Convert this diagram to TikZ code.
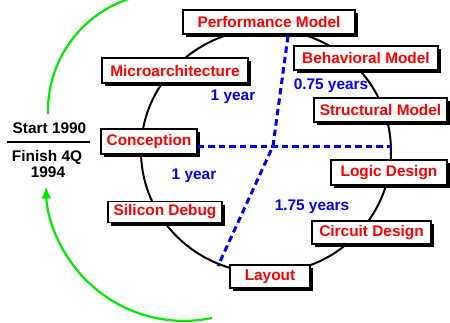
\documentclass[tikz,border=0pt]{standalone}
\usepackage{fontspec}
\setmainfont{Liberation Sans}
\usetikzlibrary{shadows,arrows.meta}
\definecolor{pred}{RGB}{255,0,0}
\definecolor{pblue}{RGB}{0,0,255}
\definecolor{pgreen}{RGB}{0,235,0}
\tikzset{
  stagebox/.style={draw=black, line width=1.5pt, fill=white, text=pred,
    font=\fontsize{15.4}{18}\selectfont\bfseries, inner sep=0pt,
    drop shadow={shadow xshift=3pt, shadow yshift=-3pt, fill=black, opacity=1}},
  yearlbl/.style={text=pblue, font=\fontsize{15.4}{18}\selectfont\bfseries, inner sep=0pt},
  datelbl/.style={text=black, font=\fontsize{15.4}{18}\selectfont\bfseries, inner sep=0pt},
  splitline/.style={pblue, line width=3pt, dash pattern=on 6.5pt off 4pt},
  greenarc/.style={pgreen, line width=2.2pt}
}
\begin{document}
\begin{tikzpicture}[x=1pt,y=-1pt]
\useasboundingbox (0,0) rectangle (450,322);
\clip (0,0) rectangle (450,322);
% cycle
\draw[line width=2pt] (266,151) ellipse [x radius=125, y radius=122];
% coordinates for dashed partition
\coordinate (ptop) at (288,36);
\coordinate (pmid) at (273,146);
\coordinate (pbot) at (218,266);
\coordinate (pright) at (392,146);
% stage boxes
\node[stagebox, minimum width=172pt, minimum height=24pt] (perf) at (269,22) {Performance Model};
\node[stagebox, minimum width=144pt, minimum height=24pt] (behav) at (366,58) {Behavioral Model};
\node[stagebox, minimum width=146pt, minimum height=25pt] (micro) at (175,70.5) {Microarchitecture};
\node[stagebox, minimum width=133pt, minimum height=24pt] (struct) at (380.5,110) {Structural Model};
\node[stagebox, minimum width=96pt, minimum height=25pt] (conc) at (149,141.5) {Conception};
\node[stagebox, minimum width=116pt, minimum height=25pt] (logic) at (389,172.5) {Logic Design};
\node[stagebox, minimum width=114pt, minimum height=21pt] (silicon) at (165,212) {Silicon Debug};
\node[stagebox, minimum width=119pt, minimum height=23pt] (circuit) at (371.5,232.5) {Circuit Design};
\node[stagebox, minimum width=80pt, minimum height=23pt] (layout) at (270,276.5) {Layout};
% dashed partition lines
\draw[splitline] (conc.east |- pright) -- (pright);
\draw[splitline] (ptop) -- (pmid) -- (pbot);
% year labels
\node[yearlbl] (y1) at (233,97) {1 year};
\node[yearlbl] (y2) at (331,86) {0.75 years};
\node[yearlbl] (y3) at (194,176) {1 year};
\node[yearlbl] (y4) at (312,207) {1.75 years};
% start / finish
\node[datelbl] (start) at (49.5,128) {Start 1990};
\node[datelbl] (finish) at (47,157) {Finish 4Q};
\node[datelbl] (year94) at (48,172.5) {1994};
\coordinate (lineL) at (7,142);
\coordinate (lineR) at (90,142);
\draw[line width=2pt] (lineL) -- (lineR);
% green arcs
\coordinate (gtop) at (48,114);
\coordinate (gbot) at (212,318);
\draw[greenarc] (gtop) arc[start angle=-181.5, end angle=-98, radius=118];
\draw[greenarc, -{Latex[length=12pt,width=10pt]}] (gbot) arc[start angle=78.3, end angle=178.5, radius=138];
\end{tikzpicture}
\end{document}
